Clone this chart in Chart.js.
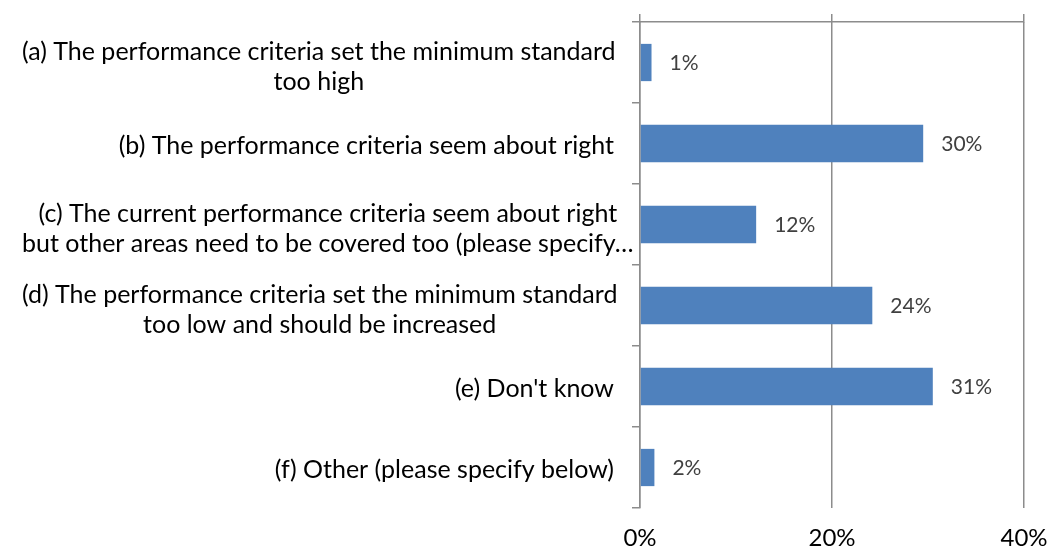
<!DOCTYPE html>
<html>
<head>
<meta charset="utf-8">
<script src="https://cdn.jsdelivr.net/npm/chart.js@4"></script>
<style>
  html, body { margin: 0; padding: 0; background: #fff; }
  #wrap { width: 1050px; height: 553px; }
</style>
</head>
<body>
<div id="wrap"><canvas id="chart"></canvas></div>
<script>
// categories (multi-line labels as in the original)
const categories = [
    ['(a) The performance criteria set the minimum standard', 'too high'],
    ['(b) The performance criteria seem about right'],
    ['(c) The current performance criteria seem about right', 'but other areas need to be covered too (please specify\u2026'],
    ['(d) The performance criteria set the minimum standard', 'too low and should be increased'],
    ["(e) Don't know"],
    ['(f) Other (please specify below)']
];
// percent of respondents
const values = [1.2, 29.5, 12.1, 24.2, 30.5, 1.5];
const xTicks = [0, 20, 40];

const gridColor = '#8c8c8c';
const labelFont = '25px Lato';

// draws the category labels: block right-aligned to the axis, lines centered
const categoryLabels = {
    id: 'categoryLabels',
    afterDraw(chart) {
        const ctx = chart.ctx;
        const yScale = chart.scales.y;
        const right = chart.chartArea.left - 26;
        ctx.save();
        ctx.font = labelFont;
        ctx.fillStyle = '#000';
        ctx.textAlign = 'center';
        ctx.textBaseline = 'middle';
        categories.forEach((lines, i) => {
            const y = yScale.getPixelForValue(i);
            const w = Math.max(...lines.map(l => ctx.measureText(l).width));
            const cx = Math.max(right - w / 2, 22 + w / 2);
            const lh = 30;
            lines.forEach((l, j) => {
                const dy = (j - (lines.length - 1) / 2) * lh + (lines.length > 1 ? 4 : 2);
                ctx.fillText(l, cx, y + dy);
            });
        });
        ctx.restore();
    }
};

// value labels next to each bar
const valueLabels = {
    id: 'valueLabels',
    afterDatasetsDraw(chart) {
        const ctx = chart.ctx;
        const meta = chart.getDatasetMeta(0);
        ctx.save();
        ctx.font = '21px Lato';
        ctx.fillStyle = '#404040';
        ctx.textAlign = 'left';
        ctx.textBaseline = 'middle';
        meta.data.forEach((bar, i) => {
            ctx.fillText(Math.round(values[i]) + '%', bar.x + 18, bar.y + 1);
        });
        ctx.restore();
    }
};

new Chart(document.getElementById('chart'), {
    type: 'bar',
    data: {
        labels: categories,
        datasets: [{
            data: values,
            backgroundColor: '#4f81bd',
            borderWidth: 0,
            categoryPercentage: 1,
            barPercentage: 0.46
        }]
    },
    options: {
        indexAxis: 'y',
        responsive: true,
        maintainAspectRatio: false,
        animation: false,
        layout: { padding: { left: 0, right: 26, top: 0, bottom: 0 } },
        plugins: {
            legend: { display: false },
            tooltip: { enabled: false }
        },
        scales: {
            x: {
                position: 'bottom',
                min: 0,
                max: 40,
                afterBuildTicks: s => { s.ticks = xTicks.map(v => ({ value: v })); },
                afterFit: s => { s.height = 45; s.paddingRight = 0; s.paddingLeft = 0; },
                grid: { color: gridColor, lineWidth: 1.5, drawTicks: false },
                border: { display: false },
                ticks: {
                    padding: 16,
                    maxRotation: 0,
                    color: '#000',
                    font: { family: 'Lato', size: 24 },
                    callback: v => v + '%'
                }
            },
            x2: {
                position: 'top',
                type: 'linear',
                min: 0,
                max: 40,
                afterBuildTicks: s => { s.ticks = xTicks.map(v => ({ value: v })); },
                afterFit: s => { s.height = 22; s.paddingRight = 0; s.paddingLeft = 0; },
                grid: { color: gridColor, lineWidth: 1.5, drawOnChartArea: false, tickLength: 8 },
                border: { display: true, color: gridColor, width: 1.5 },
                ticks: { display: false }
            },
            y: {
                position: 'left',
                afterFit: s => { s.width = 640; },
                grid: { color: gridColor, lineWidth: 1.5, drawOnChartArea: false, tickLength: 8, offset: true },
                border: { display: true, color: gridColor, width: 1.5 },
                ticks: { display: false }
            }
        }
    },
    plugins: [categoryLabels, valueLabels]
});
</script>
</body>
</html>
